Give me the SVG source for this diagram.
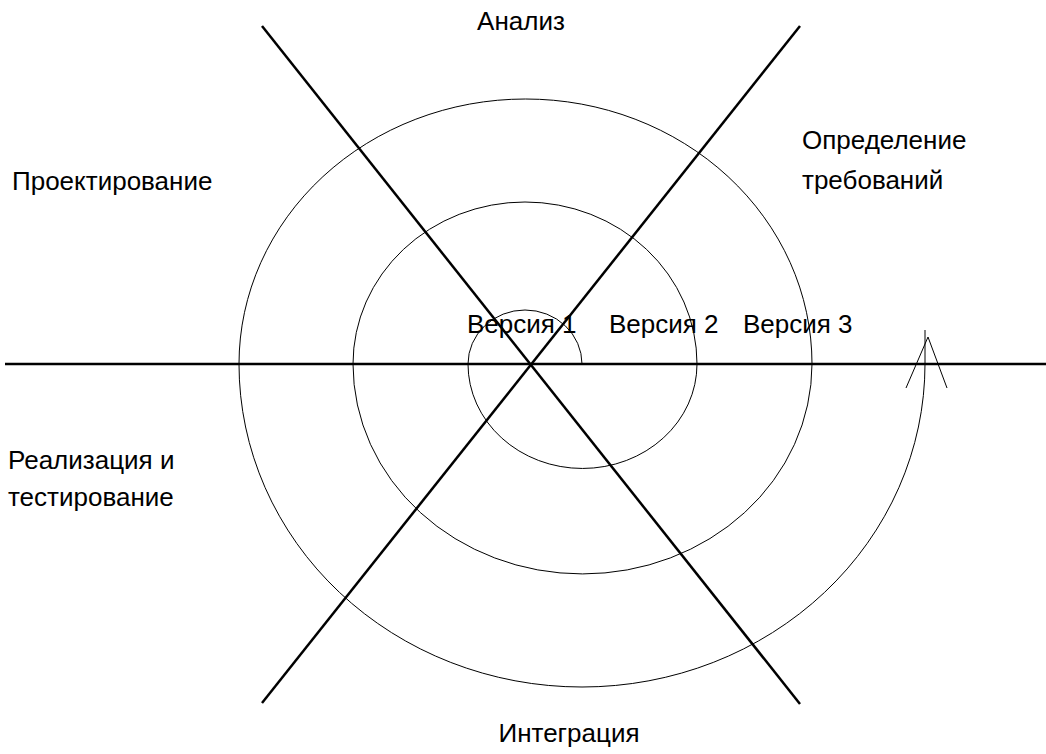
<svg xmlns="http://www.w3.org/2000/svg" width="1046" height="754" viewBox="0 0 1046 754">
<style>
.ax{stroke:#000;stroke-width:2.5;fill:none}
.sp{stroke:#000;stroke-width:1;fill:none}
text{font-family:"Liberation Sans",Arial,sans-serif;font-size:26px;fill:#000}
</style>
<rect width="1046" height="754" fill="#fff"/>
<g id="connectors">
<line class="ax" x1="5" y1="364" x2="1046" y2="364"/>
<line class="ax" x1="262" y1="26" x2="800" y2="704"/>
<line class="ax" x1="800" y1="26" x2="262" y2="703"/>
<path id="spiral" class="sp" d="M582,364 A57,54 0 0 0 468,364 A114,104 0 0 0 697,364 A172,162 0 0 0 353,364 A229.5,210 0 0 0 812,364 A286.5,265 0 0 0 239,364 A343,323 0 0 0 925,364 L925,330"/>
<polyline id="arrowhead" class="sp" points="906,388 928,337 947,388"/>
</g>
<g id="analiz"><text x="521" y="30" text-anchor="middle">Анализ</text></g>
<g id="proekt"><text x="12" y="190">Проектирование</text></g>
<g id="opred"><text x="802" y="149">Определение</text><text x="802" y="189">требований</text></g>
<g id="v1"><text x="467" y="333">Версия 1</text></g>
<g id="v2"><text x="609" y="333">Версия 2</text></g>
<g id="v3"><text x="743" y="333">Версия 3</text></g>
<g id="real"><text x="8" y="469">Реализация и</text><text x="8" y="506">тестирование</text></g>
<g id="integr"><text x="569" y="742" text-anchor="middle">Интеграция</text></g>
</svg>
